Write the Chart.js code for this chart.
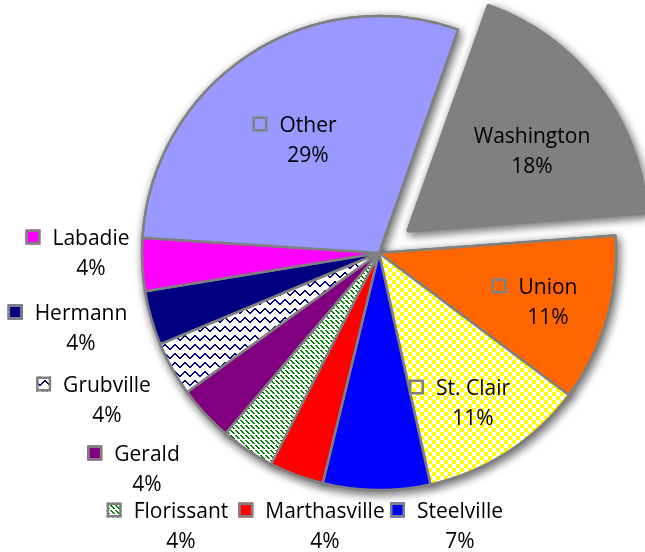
<!DOCTYPE html>
<html>
<head>
<meta charset="utf-8">
<script src="https://cdn.jsdelivr.net/npm/chart.js@4.4.0/dist/chart.umd.min.js"></script>
<style>
  html, body { margin: 0; padding: 0; background: #fff; }
  #chart { display: block; }
</style>
</head>
<body>
<canvas id="chart" width="645" height="552"></canvas>
<script>
// ---- data ----
const towns = ["Washington", "Union", "St. Clair", "Steelville", "Marthasville", "Florissant",
               "Gerald", "Grubville", "Hermann", "Labadie", "Other"];
const shares = [18.4, 11.4, 11.3, 7.3, 3.7, 3.7, 3.8, 3.7, 3.7, 3.6, 29.4];

// ---- layout ----
const firstSliceAngle = 19.5;   // degrees clockwise from 12 o'clock
const pieRadius = 237;
const explodePx = 39;           // how far Washington is pulled out
// name-line centre of each label, relative to the pie centre
const labelSpots = [[153, -118], [169, 33], [94, 134], [81, 257], [-54, 257], [-198, 257],
                    [-232, 200], [-272, 131], [-298, 59], [-288, -16], [-71, -129]];
const lineGap = 30;
const labelFont = '21px "Open Sans"';

// ---- fills (patterns made like the Excel ones) ----
function makeTile(w, h, paint) {
  const c = document.createElement("canvas");
  c.width = w; c.height = h;
  const g = c.getContext("2d");
  g.fillStyle = "#fff";
  g.fillRect(0, 0, w, h);
  paint(g);
  return document.getElementById("chart").getContext("2d").createPattern(c, "repeat");
}

const checker = makeTile(8, 8, g => {
  g.fillStyle = "#ffff00";
  g.fillRect(0, 0, 4, 4);
  g.fillRect(4, 4, 4, 4);
});

const greenDash = makeTile(10, 10, g => {
  g.fillStyle = "#008000";
  for (let y = 0; y < 10; y++) {
    for (let x = 0; x < 10; x++) {
      if (((x - y) % 5 + 5) % 5 === 0 && x % 5 !== 4) g.fillRect(x, y, 2, 1);
    }
  }
});

const navyWave = makeTile(10, 9, g => {
  g.fillStyle = "#000080";
  const ys = [6, 5, 4, 3, 2, 2, 3, 4, 5, 6];
  ys.forEach((y, x) => g.fillRect(x, y, 1, 2));
});

const fills = ["#808080", "#ff6600", checker, "#0000ff", "#ff0000", greenDash,
               "#800080", navyWave, "#000080", "#ff00ff", "#9999ff"];

// Chart.js v4 moves an arc by offset/4 * (1 + fix), so work back from the pixels wanted
const total = shares.reduce((a, b) => a + b, 0);
const washAngle = shares[0] / total * 2 * Math.PI;
const fix = 1 - Math.sin(Math.min(Math.PI, washAngle));
const offsets = towns.map((t, i) => i === 0 ? 4 * explodePx / (1 + fix) : 0);

// shadow under the slices + the Excel-style labels
const pieDecor = {
  id: "pieDecor",
  beforeDatasetsDraw(chart) {
    const ctx = chart.ctx;
    const arcs = chart.getDatasetMeta(0).data;
    ctx.save();
    ctx.shadowColor = "rgba(0,0,0,0.6)";
    ctx.shadowBlur = 10;
    ctx.shadowOffsetX = 2;
    ctx.shadowOffsetY = 3;
    arcs.forEach(a => a.draw(ctx));
    ctx.restore();
  },
  afterDatasetsDraw(chart) {
    const ctx = chart.ctx;
    const arcs = chart.getDatasetMeta(0).data;
    ctx.save();
    ctx.font = labelFont;
    ctx.textAlign = "center";
    ctx.textBaseline = "alphabetic";
    arcs.forEach((arc, i) => {
      const nx = arc.x + labelSpots[i][0];
      const ny = arc.y + labelSpots[i][1];
      const w = ctx.measureText(towns[i]).width;
      // legend key
      const kx = nx - w / 2 - 12 - 15;
      const ky = ny - 7.5;
      ctx.fillStyle = fills[i];
      ctx.fillRect(kx, ky, 15, 15);
      ctx.strokeStyle = "#808080";
      ctx.lineWidth = 2.5;
      ctx.strokeRect(kx + 1.25, ky + 1.25, 12.5, 12.5);
      // text
      ctx.fillStyle = "#000";
      ctx.fillText(towns[i], nx, ny + 7.5);
      ctx.fillText(Math.round(shares[i] / total * 100) + "%", nx, ny + lineGap + 7.5);
    });
    ctx.restore();
  }
};

new Chart(document.getElementById("chart"), {
  type: "pie",
  data: {
    labels: towns,
    datasets: [{
      data: shares,
      backgroundColor: fills,
      borderColor: "#808080",
      borderWidth: 2.5,
      offset: offsets
    }]
  },
  options: {
    responsive: false,
    animation: false,
    events: [],
    rotation: firstSliceAngle,
    radius: pieRadius,
    layout: { padding: { left: 113, right: 0, top: 0, bottom: 46 } },
    plugins: {
      legend: { display: false },
      tooltip: { enabled: false }
    }
  },
  plugins: [pieDecor]
});
</script>
</body>
</html>
